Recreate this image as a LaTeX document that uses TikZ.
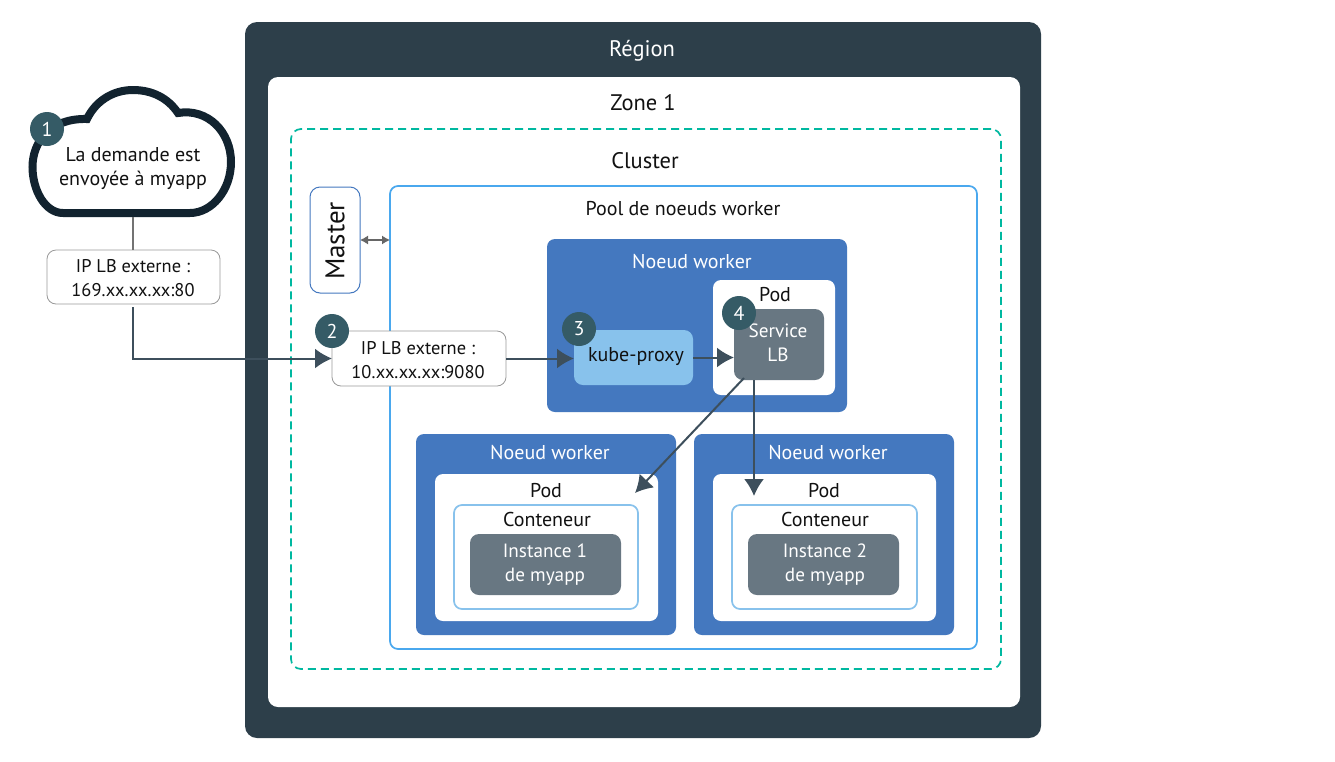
\documentclass[tikz,border=0pt]{standalone}
\usepackage{fontspec}
\setmainfont{PT Sans}
\usetikzlibrary{arrows.meta}
\definecolor{regionc}{HTML}{2D3F4A}
\definecolor{dashc}{HTML}{00B8A0}
\definecolor{poolc}{HTML}{4AA8EE}
\definecolor{workerc}{HTML}{4478BF}
\definecolor{greyc}{HTML}{687782}
\definecolor{proxyc}{HTML}{88C2EC}
\definecolor{badgec}{HTML}{355B66}
\definecolor{cloudc}{HTML}{12232F}
\definecolor{arrowc}{HTML}{3D4F5C}
\definecolor{txtc}{HTML}{111111}
\tikzset{
  x=1pt,y=-1pt,
  base/.style={inner sep=0pt,outer sep=0pt,align=center,font=\fontsize{20}{24}\selectfont,text=txtc},
  big/.style={font=\fontsize{22.5}{26}\selectfont},
  mid/.style={font=\fontsize{19.2}{24}\selectfont},
  small/.style={font=\fontsize{18.4}{24}\selectfont},
  lbl/.style={base},
  wlbl/.style={base,text=white},
  badge/.style={circle,base,fill=badgec,text=white,minimum size=34pt},
  lbbox/.style={base,draw=black!40,line width=0.8pt,fill=white,rounded corners=9pt},
  conn/.style={draw=arrowc,line width=2pt,-{Latex[length=17pt,width=20pt]}},
}
\newcommand{\rbox}[7]{% name, x1,y1,x2,y2, radius, style
  \node[base,anchor=north west,minimum width=#4pt-#2pt,minimum height=#5pt-#3pt,rounded corners=#6pt,#7] (#1) at (#2,#3) {};}
\begin{document}
\begin{tikzpicture}
\useasboundingbox (0,0) rectangle (1335,761);
\rbox{region}{245}{22}{1041}{738}{12}{fill=regionc}
\rbox{zone}{268}{77}{1020}{707}{10}{fill=white}
\rbox{cluster}{291}{129}{1001}{669}{10}{draw=dashc,line width=1.7pt,dash pattern=on 8pt off 5pt}
\rbox{pool}{390}{186}{977}{649}{8}{draw=poolc,line width=1.7pt}
\rbox{top}{547}{239}{847}{412}{8}{fill=workerc}
\rbox{podtop}{713}{280}{835}{395}{8}{fill=white}
\rbox{svc}{734}{309}{824}{380}{9}{fill=greyc}
\rbox{kube}{574}{330}{693}{385}{9}{fill=proxyc}
\rbox{wleft}{416}{434}{676}{635}{8}{fill=workerc}
\rbox{podl}{435}{474}{658}{621}{8}{fill=white}
\rbox{contl}{454}{505}{638}{609}{8}{draw=proxyc,line width=1.7pt}
\rbox{instl}{470}{534}{621}{595}{9}{fill=greyc}
\rbox{wright}{694}{434}{954}{635}{8}{fill=workerc}
\rbox{podr}{713}{474}{936}{621}{8}{fill=white}
\rbox{contr}{732}{505}{917}{609}{8}{draw=proxyc,line width=1.7pt}
\rbox{instr}{748}{534}{899}{595}{9}{fill=greyc}
\rbox{master}{310}{187}{360}{293}{10}{draw=workerc,line width=1pt,fill=white}
\rbox{lba}{47}{250}{220}{304}{9}{lbbox}
\rbox{lbb}{332}{331}{506}{386}{9}{lbbox}
% cloud
\draw[draw=cloudc,line width=8pt,fill=white,line join=miter]
  (63,213) .. controls (45,213) and (32.5,190) .. (32.5,167)
  .. controls (32.5,142) and (50,118) .. (87,119)
  .. controls (95,102) and (112,90) .. (133,90)
  .. controls (152,90) and (168,98) .. (178,113)
  .. controls (208,108) and (231,132) .. (231,162)
  .. controls (231,190) and (212,213) .. (190,213) -- cycle;
\coordinate (cloudb) at (133,217);
% texts
\node[wlbl,big] (tregion) at (642,51) {Région};
\node[lbl,big] (tzone) at (643,103) {Zone 1};
\node[lbl,big] (tcluster) at (645,161) {Cluster};
\node[lbl] (tpool) at (683,209) {Pool de noeuds worker};
\node[wlbl] (ttop) at (692,262) {Noeud worker};
\node[lbl] (tpodt) at (775,295) {Pod};
\node[wlbl,mid] (tsvc) at (778,342.5) {Service\\LB};
\node[lbl] (tkube) at (636,357) {kube-proxy};
\node[wlbl] (tl) at (550,453) {Noeud worker};
\node[lbl] (tpl) at (546,491) {Pod};
\node[lbl] (tcl) at (547,519) {Conteneur};
\node[wlbl,mid] (til) at (545,564.5) {Instance 1\\de myapp};
\node[wlbl] (tr) at (828,453) {Noeud worker};
\node[lbl] (tpr) at (824,491) {Pod};
\node[lbl] (tcr) at (825,519) {Conteneur};
\node[wlbl,mid] (tir) at (825,564.5) {Instance 2\\de myapp};
\node[lbl,rotate=90,font=\fontsize{27}{30}\selectfont] (tmaster) at (335,241) {Master};
\node[lbl] (tcloud) at (133,169) {La demande est\\envoyée à myapp};
\node[lbl,small] (tlba) at (133,278.5) {IP LB externe :\\169.xx.xx.xx:80};
\node[lbl,small] (tlbb) at (418,360) {IP LB externe :\\10.xx.xx.xx:9080};
% connectors
\draw[draw=black!55,line width=1.3pt] (cloudb) -- (cloudb |- lba.north);
\draw[conn] (lba.south) ++(-1,3) |- (lbb.west);
\draw[conn] (lbb.east) -- (kube.west |- lbb.east);
\draw[conn] (kube.east) -- (kube.east -| svc.west);
\coordinate (diag1) at (744,378);
\coordinate (diag2) at (635,493);
\coordinate (vert1) at (754,380);
\coordinate (vert2) at (754,496);
\draw[conn] (diag1) -- (diag2);
\draw[conn] (vert1) -- (vert2);
\coordinate (midp) at (375,240);
\draw[draw=black!60,line width=1.2pt,{Latex[length=8pt,width=9pt]}-{Latex[length=8pt,width=9pt]}] (master.east |- midp) -- (pool.west |- midp);
% badges
\node[badge] (b1) at (47,129) {1};
\node[badge] (b2) at (332,331) {2};
\node[badge] (b3) at (579,329) {3};
\node[badge] (b4) at (739,313) {4};
\end{tikzpicture}
\end{document}
